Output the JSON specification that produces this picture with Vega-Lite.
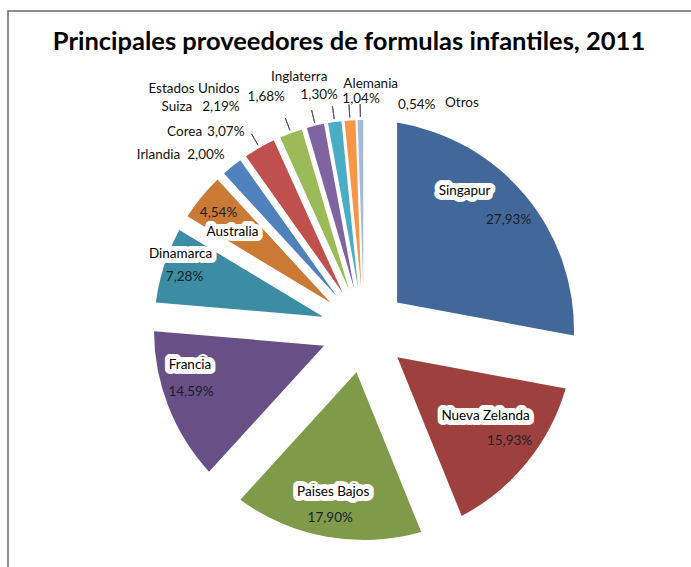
{
  "$schema": "https://vega.github.io/schema/vega-lite/v6.json",
  "width": 712,
  "height": 638,
  "autosize": "none",
  "padding": {"left": 8, "top": 11, "right": 0, "bottom": 0},
  "background": "white",
  "view": {"stroke": "#6b6b6b", "strokeWidth": 1.5},
  "title": {
    "text": "Principales proveedores de formulas infantiles, 2011",
    "font": "Lato", "fontSize": 25.5, "fontWeight": "bold", "color": "#000000",
    "anchor": "middle", "offset": -44, "dx": -15
  },
  "data": {"values": [
    {"orden": 1, "pais": "Singapur", "cuota": 0.2793},
    {"orden": 2, "pais": "Nueva Zelanda", "cuota": 0.1593},
    {"orden": 3, "pais": "Paises Bajos", "cuota": 0.1790},
    {"orden": 4, "pais": "Francia", "cuota": 0.1459},
    {"orden": 5, "pais": "Dinamarca", "cuota": 0.0728},
    {"orden": 6, "pais": "Australia", "cuota": 0.0454},
    {"orden": 7, "pais": "Irlandia", "cuota": 0.0200},
    {"orden": 8, "pais": "Corea", "cuota": 0.0307},
    {"orden": 9, "pais": "Suiza", "cuota": 0.0219},
    {"orden": 10, "pais": "Estados Unidos", "cuota": 0.0168},
    {"orden": 11, "pais": "Inglaterra", "cuota": 0.0130},
    {"orden": 12, "pais": "Alemania", "cuota": 0.0104},
    {"orden": 13, "pais": "Otros", "cuota": 0.0054}
  ]},
  "encoding": {
    "theta": {"field": "cuota", "type": "quantitative", "stack": true},
    "order": {"field": "orden", "type": "quantitative"},
    "detail": {"field": "pais", "type": "nominal"}
  },
  "layer": [
    {
      "mark": {"type": "arc", "outerRadius": 210, "innerRadius": 43,
        "padAngle": {"expr": "2*asin(43*sin(PI*datum.cuota)/214.36)"}},
      "encoding": {
        "color": {"field": "pais", "type": "nominal", "legend": null,
          "scale": {
            "domain": ["Singapur", "Nueva Zelanda", "Paises Bajos", "Francia", "Dinamarca", "Australia", "Irlandia", "Corea", "Suiza", "Estados Unidos", "Inglaterra", "Alemania", "Otros"],
            "range": ["#416899", "#9e413e", "#7f9a48", "#684f86", "#3c8da3", "#cb7a35", "#4f81bd", "#c0504d", "#9bbb59", "#8064a2", "#4bacc6", "#f79646", "#a9bad8"]
          }}
      }
    },
    {
      "mark": {"type": "arc", "outerRadius": 226, "innerRadius": 213, "padAngle": 3,
        "fill": "white", "fillOpacity": 0, "stroke": "#595959", "strokeWidth": 1},
      "encoding": {
        "strokeOpacity": {"condition": {"test": "datum.cuota < 0.035 && datum.pais !== 'Irlandia'", "value": 1}, "value": 0}
      }
    },

    {"mark": {"type": "text", "radius": 175, "dx": -34, "dy": -27, "font": "Lato", "fontSize": 13.5, "fill": "white", "stroke": "white", "strokeWidth": 10, "strokeJoin": "round"},
     "encoding": {"text": {"condition": {"test": "datum.pais === 'Singapur'", "field": "pais", "type": "nominal"}, "value": ""}}},
    {"mark": {"type": "text", "radius": 175, "dx": -34, "dy": -27, "font": "Lato", "fontSize": 13.5, "fill": "#000000"},
     "encoding": {"text": {"condition": {"test": "datum.pais === 'Singapur'", "field": "pais", "type": "nominal"}, "value": ""}}},
    {"mark": {"type": "text", "radius": 175, "dx": 10, "dy": 2, "font": "Lato", "fontSize": 13.5, "fill": "#1a1f2a"},
     "encoding": {"text": {"condition": {"test": "datum.pais === 'Singapur'", "field": "cuota", "type": "quantitative", "format": ".2%"}, "value": ""}}},

    {"mark": {"type": "text", "radius": 175, "dx": -14, "dy": -25, "font": "Lato", "fontSize": 13.5, "fill": "white", "stroke": "white", "strokeWidth": 10, "strokeJoin": "round"},
     "encoding": {"text": {"condition": {"test": "datum.pais === 'Nueva Zelanda'", "field": "pais", "type": "nominal"}, "value": ""}}},
    {"mark": {"type": "text", "radius": 175, "dx": -14, "dy": -25, "font": "Lato", "fontSize": 13.5, "fill": "#000000"},
     "encoding": {"text": {"condition": {"test": "datum.pais === 'Nueva Zelanda'", "field": "pais", "type": "nominal"}, "value": ""}}},
    {"mark": {"type": "text", "radius": 175, "dx": 10, "dy": 0, "font": "Lato", "fontSize": 13.5, "fill": "#1a1f2a"},
     "encoding": {"text": {"condition": {"test": "datum.pais === 'Nueva Zelanda'", "field": "cuota", "type": "quantitative", "format": ".2%"}, "value": ""}}},

    {"mark": {"type": "text", "radius": 175, "dx": 0, "dy": -10, "font": "Lato", "fontSize": 13.5, "fill": "white", "stroke": "white", "strokeWidth": 10, "strokeJoin": "round"},
     "encoding": {"text": {"condition": {"test": "datum.pais === 'Paises Bajos'", "field": "pais", "type": "nominal"}, "value": ""}}},
    {"mark": {"type": "text", "radius": 175, "dx": 0, "dy": -10, "font": "Lato", "fontSize": 13.5, "fill": "#000000"},
     "encoding": {"text": {"condition": {"test": "datum.pais === 'Paises Bajos'", "field": "pais", "type": "nominal"}, "value": ""}}},
    {"mark": {"type": "text", "radius": 175, "dx": -3, "dy": 16, "font": "Lato", "fontSize": 13.5, "fill": "#1a1f2a"},
     "encoding": {"text": {"condition": {"test": "datum.pais === 'Paises Bajos'", "field": "cuota", "type": "quantitative", "format": ".2%"}, "value": ""}}},

    {"mark": {"type": "text", "radius": 175, "dx": -11, "dy": -29, "font": "Lato", "fontSize": 13.5, "fill": "white", "stroke": "white", "strokeWidth": 10, "strokeJoin": "round"},
     "encoding": {"text": {"condition": {"test": "datum.pais === 'Francia'", "field": "pais", "type": "nominal"}, "value": ""}}},
    {"mark": {"type": "text", "radius": 175, "dx": -11, "dy": -29, "font": "Lato", "fontSize": 13.5, "fill": "#000000"},
     "encoding": {"text": {"condition": {"test": "datum.pais === 'Francia'", "field": "pais", "type": "nominal"}, "value": ""}}},
    {"mark": {"type": "text", "radius": 175, "dx": -10, "dy": -2, "font": "Lato", "fontSize": 13.5, "fill": "#1a1f2a"},
     "encoding": {"text": {"condition": {"test": "datum.pais === 'Francia'", "field": "cuota", "type": "quantitative", "format": ".2%"}, "value": ""}}},

    {"mark": {"type": "text", "radius": 175, "dx": -17, "dy": -22, "font": "Lato", "fontSize": 13.5, "fill": "white", "stroke": "white", "strokeWidth": 10, "strokeJoin": "round"},
     "encoding": {"text": {"condition": {"test": "datum.pais === 'Dinamarca'", "field": "pais", "type": "nominal"}, "value": ""}}},
    {"mark": {"type": "text", "radius": 175, "dx": -17, "dy": -22, "font": "Lato", "fontSize": 13.5, "fill": "#000000"},
     "encoding": {"text": {"condition": {"test": "datum.pais === 'Dinamarca'", "field": "pais", "type": "nominal"}, "value": ""}}},
    {"mark": {"type": "text", "radius": 175, "dx": -13, "dy": 1, "font": "Lato", "fontSize": 13.5, "fill": "#1a1f2a"},
     "encoding": {"text": {"condition": {"test": "datum.pais === 'Dinamarca'", "field": "cuota", "type": "quantitative", "format": ".2%"}, "value": ""}}},

    {"mark": {"type": "text", "radius": 175, "dx": 4, "dy": 13, "font": "Lato", "fontSize": 13.5, "fill": "white", "stroke": "white", "strokeWidth": 10, "strokeJoin": "round"},
     "encoding": {"text": {"condition": {"test": "datum.pais === 'Australia'", "field": "pais", "type": "nominal"}, "value": ""}}},
    {"mark": {"type": "text", "radius": 175, "dx": 4, "dy": 13, "font": "Lato", "fontSize": 13.5, "fill": "#000000"},
     "encoding": {"text": {"condition": {"test": "datum.pais === 'Australia'", "field": "pais", "type": "nominal"}, "value": ""}}},
    {"mark": {"type": "text", "radius": 175, "dx": -10, "dy": -6, "font": "Lato", "fontSize": 13.5, "fill": "#1a1f2a"},
     "encoding": {"text": {"condition": {"test": "datum.pais === 'Australia'", "field": "cuota", "type": "quantitative", "format": ".2%"}, "value": ""}}},

    {"mark": {"type": "text", "radius": 235, "dx": -36, "dy": 8, "align": "right", "font": "Lato", "fontSize": 13.5, "fill": "#111111"},
     "encoding": {"text": {"condition": {"test": "datum.pais === 'Irlandia'", "field": "pais", "type": "nominal"}, "value": ""}}},
    {"mark": {"type": "text", "radius": 235, "dx": -29, "dy": 8, "align": "left", "font": "Lato", "fontSize": 13.5, "fill": "#111111"},
     "encoding": {"text": {"condition": {"test": "datum.pais === 'Irlandia'", "field": "cuota", "type": "quantitative", "format": ".2%"}, "value": ""}}},

    {"mark": {"type": "text", "radius": 235, "dx": -45, "dy": 6, "align": "right", "font": "Lato", "fontSize": 13.5, "fill": "#111111"},
     "encoding": {"text": {"condition": {"test": "datum.pais === 'Corea'", "field": "pais", "type": "nominal"}, "value": ""}}},
    {"mark": {"type": "text", "radius": 235, "dx": -40, "dy": 6, "align": "left", "font": "Lato", "fontSize": 13.5, "fill": "#111111"},
     "encoding": {"text": {"condition": {"test": "datum.pais === 'Corea'", "field": "cuota", "type": "quantitative", "format": ".2%"}, "value": ""}}},

    {"mark": {"type": "text", "radius": 235, "dx": -90, "dy": -3, "align": "right", "font": "Lato", "fontSize": 13.5, "fill": "#111111"},
     "encoding": {"text": {"condition": {"test": "datum.pais === 'Suiza'", "field": "pais", "type": "nominal"}, "value": ""}}},
    {"mark": {"type": "text", "radius": 235, "dx": -80, "dy": -3, "align": "left", "font": "Lato", "fontSize": 13.5, "fill": "#111111"},
     "encoding": {"text": {"condition": {"test": "datum.pais === 'Suiza'", "field": "cuota", "type": "quantitative", "format": ".2%"}, "value": ""}}},

    {"mark": {"type": "text", "radius": 235, "dx": -70, "dy": -12, "align": "right", "font": "Lato", "fontSize": 13.5, "fill": "#111111"},
     "encoding": {"text": {"condition": {"test": "datum.pais === 'Estados Unidos'", "field": "pais", "type": "nominal"}, "value": ""}}},
    {"mark": {"type": "text", "radius": 235, "dx": -62, "dy": -4, "align": "left", "font": "Lato", "fontSize": 13.5, "fill": "#111111"},
     "encoding": {"text": {"condition": {"test": "datum.pais === 'Estados Unidos'", "field": "cuota", "type": "quantitative", "format": ".2%"}, "value": ""}}},

    {"mark": {"type": "text", "radius": 235, "dx": -32, "dy": -20, "align": "center", "font": "Lato", "fontSize": 13.5, "fill": "#111111"},
     "encoding": {"text": {"condition": {"test": "datum.pais === 'Inglaterra'", "field": "pais", "type": "nominal"}, "value": ""}}},
    {"mark": {"type": "text", "radius": 235, "dx": -12, "dy": -2, "align": "center", "font": "Lato", "fontSize": 13.5, "fill": "#111111"},
     "encoding": {"text": {"condition": {"test": "datum.pais === 'Inglaterra'", "field": "cuota", "type": "quantitative", "format": ".2%"}, "value": ""}}},

    {"mark": {"type": "text", "radius": 235, "dx": -5, "dy": -12, "align": "left", "font": "Lato", "fontSize": 13.5, "fill": "#111111"},
     "encoding": {"text": {"condition": {"test": "datum.pais === 'Alemania'", "field": "pais", "type": "nominal"}, "value": ""}}},
    {"mark": {"type": "text", "radius": 235, "dx": -6, "dy": 3, "align": "left", "font": "Lato", "fontSize": 13.5, "fill": "#111111"},
     "encoding": {"text": {"condition": {"test": "datum.pais === 'Alemania'", "field": "cuota", "type": "quantitative", "format": ".2%"}, "value": ""}}},

    {"mark": {"type": "text", "radius": 235, "dx": 85, "dy": 8, "align": "left", "font": "Lato", "fontSize": 13.5, "fill": "#111111"},
     "encoding": {"text": {"condition": {"test": "datum.pais === 'Otros'", "field": "pais", "type": "nominal"}, "value": ""}}},
    {"mark": {"type": "text", "radius": 235, "dx": 38, "dy": 10, "align": "left", "font": "Lato", "fontSize": 13.5, "fill": "#111111"},
     "encoding": {"text": {"condition": {"test": "datum.pais === 'Otros'", "field": "cuota", "type": "quantitative", "format": ".2%"}, "value": ""}}}
  ],
  "config": {
    "locale": {"number": {"decimal": ",", "thousands": ".", "grouping": [3], "currency": ["", " €"]}}
  }
}
